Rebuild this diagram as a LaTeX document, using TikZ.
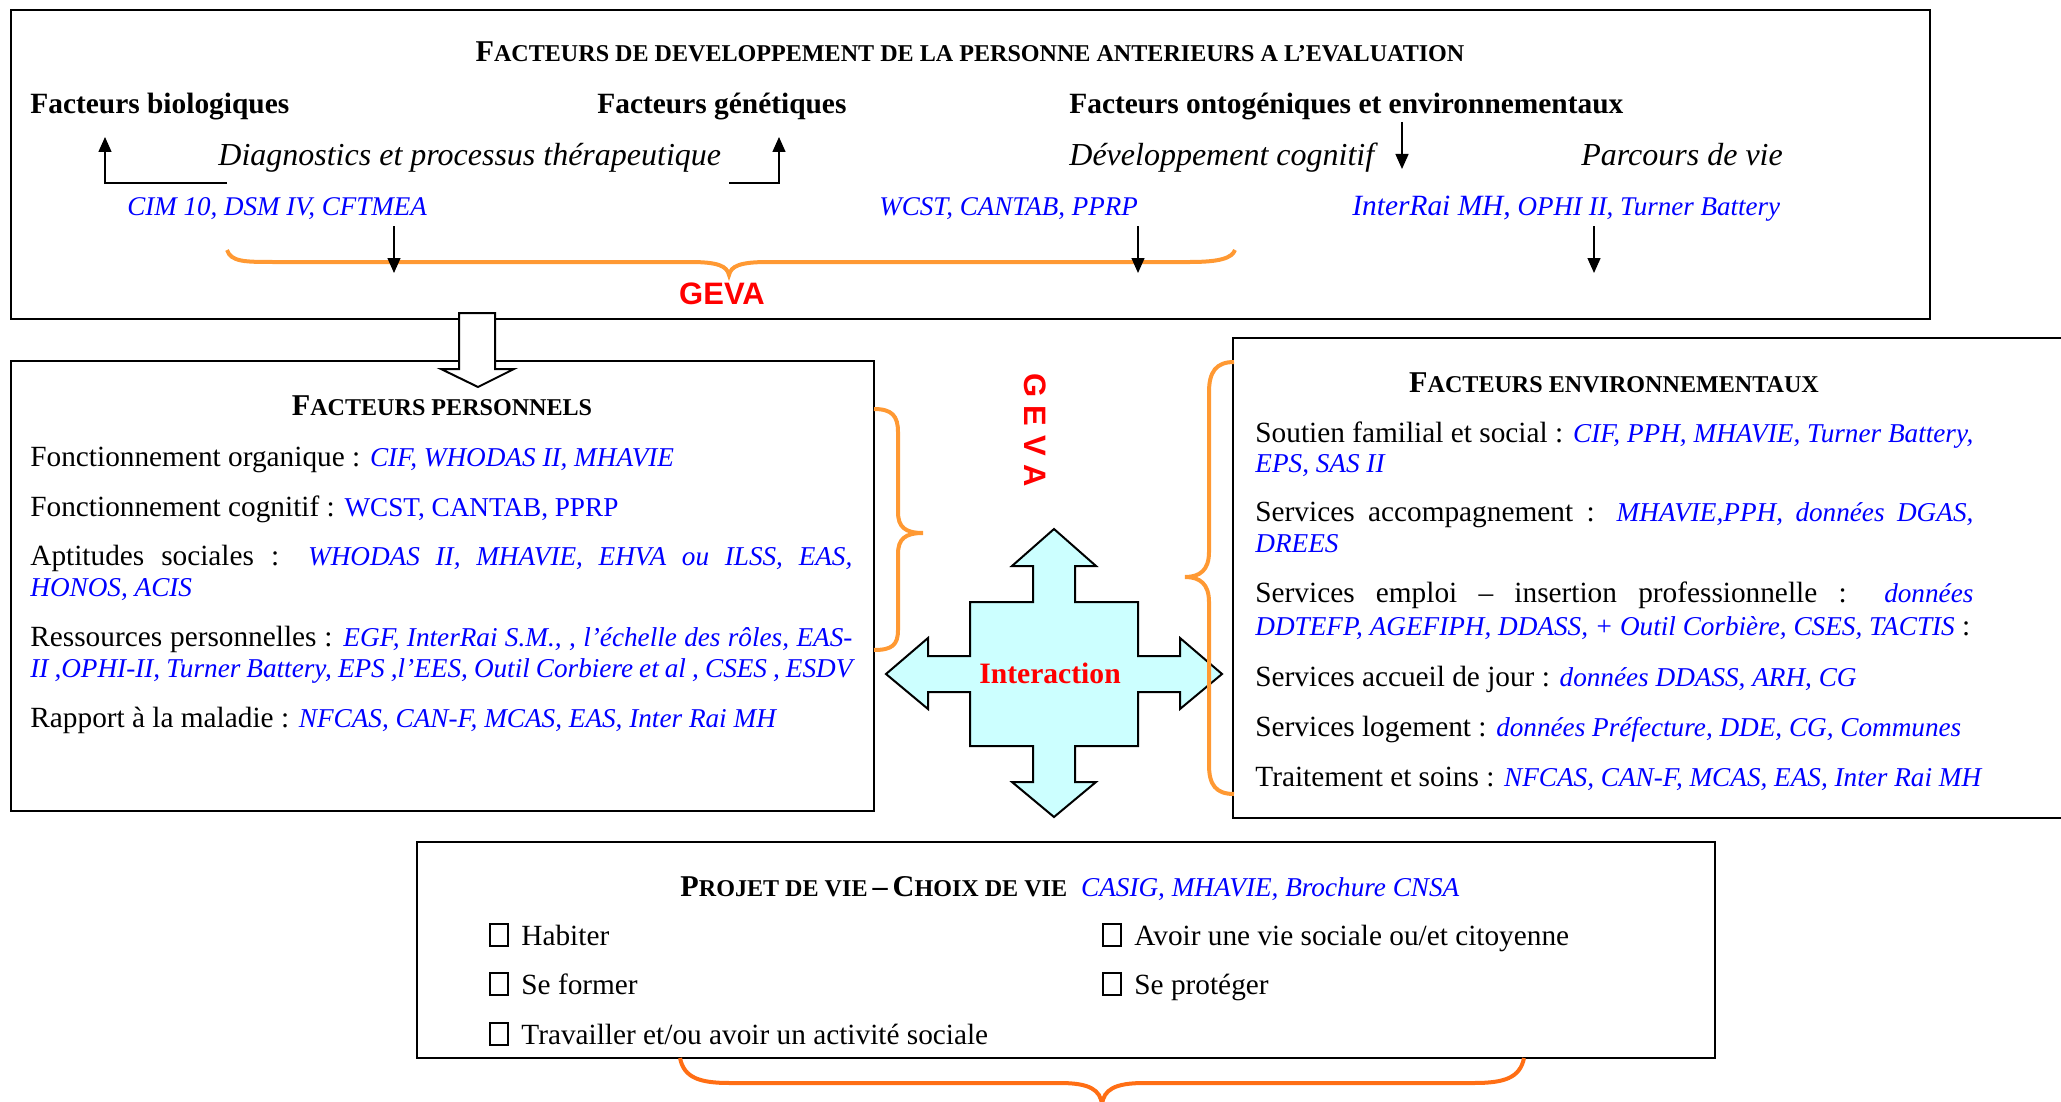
\documentclass[tikz,border=0pt]{standalone}
\usepackage{fontspec}
\setmainfont{Liberation Serif}
\newfontfamily\gevafont{Liberation Sans}
\usetikzlibrary{arrows.meta}
\definecolor{txtblue}{RGB}{0,0,255}
\definecolor{gevared}{RGB}{255,0,0}
\definecolor{braceor}{RGB}{255,153,51}
\definecolor{bracedark}{RGB}{255,110,20}
\definecolor{crossfill}{RGB}{204,255,255}
\newcommand{\bodyf}{\fontsize{14.65}{16}\selectfont}
\newcommand{\bl}[1]{{\color{txtblue}\mdseries\itshape\fontsize{13.6}{16}\selectfont #1}}
\newcommand{\blu}[1]{{\color{txtblue}\fontsize{13.6}{16}\selectfont #1}}
\newcommand{\hsc}[2]{{\fontsize{15.1}{17}\selectfont #1}{\fontsize{12.05}{14}\selectfont #2}}
\newcommand{\cbox}{{\setlength{\fboxsep}{0pt}\setlength{\fboxrule}{1pt}\framebox[10pt]{\rule{0pt}{10pt}}}\hspace{6pt}}
\begin{document}
\begin{tikzpicture}[x=0.5pt,y=-0.5pt,
  frame/.style={draw=black, line width=1pt},
  txt/.style={anchor=base west, inner sep=0pt, font=\bodyf},
  head/.style={anchor=base west, inner sep=0pt, font=\bfseries\fontsize{14.7}{16}\selectfont},
  itl/.style={anchor=base west, inner sep=0pt, font=\itshape\fontsize{16}{18}\selectfont},
  tool/.style={anchor=base west, inner sep=0pt, font=\itshape\fontsize{13.5}{15}\selectfont, text=txtblue},
  conn/.style={line width=0.7pt, -{Triangle[length=7.5pt,width=6.5pt]}},
  brace/.style={draw=braceor, line width=2pt},
  geva/.style={inner sep=0pt, text=gevared, font=\gevafont\bfseries\fontsize{15.5}{17}\selectfont}]
\useasboundingbox (0,0) rectangle (2061,1102);

% ---------- top box ----------
\draw[frame] (10.5,10.5) rectangle (1930,319);
\node[anchor=base, inner sep=0pt, font=\bfseries] (ttop) at (970,62)
  {\hsc{F}{ACTEURS DE DEVELOPPEMENT DE LA PERSONNE ANTERIEURS A L’EVALUATION}};
\node[head] (fbio) at (30,114) {Facteurs biologiques};
\node[head] (fgen) at (597,114) {Facteurs génétiques};
\node[head] (fonto) at (1069,114) {Facteurs ontogéniques et environnementaux};
\node[itl] (diag) at (218,165) {Diagnostics et processus thérapeutique};
\node[itl] (devc) at (1069,165) {Développement cognitif};
\node[itl] (parc) at (1581,165) {Parcours de vie};
\node[tool] (cim) at (127,215) {CIM 10, DSM IV, CFTMEA};
\node[tool] (wcst) at (879,215) {WCST, CANTAB, PPRP};
\node[tool] (irai) at (1352,215) {{\fontsize{14.7}{16}\selectfont InterRai MH,} OPHI II, Turner Battery};

% brace top
\draw[brace] (227,250) .. controls (231,262) and (245,262) .. (275,262)
  -- (690,262) .. controls (718,262) and (727,266) .. (729,275)
  .. controls (731,266) and (740,262) .. (768,262)
  -- (1190,262) .. controls (1220,262) and (1232,258) .. (1235,250);
\node[geva] (gevatop) at (722,294) {GEVA};

% arrows top
\coordinate (e1a) at (227,183); \coordinate (e1b) at (105,137);
\coordinate (e2a) at (729,183); \coordinate (e2b) at (779,137);
\draw[conn] (e1a) -| (e1b);
\draw[conn] (e2a) -| (e2b);
\coordinate (d1a) at (1402,122); \coordinate (d1b) at (1402,169);
\draw[conn] (d1a) -- (d1b);
\coordinate (s1a) at (394,226); \coordinate (s1b) at (394,273);
\coordinate (s2a) at (1138,226); \coordinate (s2b) at (1138,273);
\coordinate (s3a) at (1594,226); \coordinate (s3b) at (1594,273);
\draw[conn] (s1a) -- (s1b);
\draw[conn] (s2a) -- (s2b);
\draw[conn] (s3a) -- (s3b);

% ---------- left box ----------
\draw[frame] (10.5,361) rectangle (874,811);
\draw[line width=1pt, fill=white] (459,313) -- (495,313) -- (495,369) -- (514,369)
  -- (478,387) -- (441,369) -- (459,369) -- cycle;
\node[anchor=base, inner sep=0pt, font=\bfseries] (tpers) at (442,415) {\hsc{F}{ACTEURS PERSONNELS}};
\node[txt] (p1) at (30,466) {Fonctionnement organique : \bl{CIF, WHODAS II, MHAVIE}};
\node[txt] (p2) at (30,516) {Fonctionnement cognitif : \blu{WCST, CANTAB, PPRP}};
\node[txt] (p3) at (30,565) {\makebox[411pt][s]{Aptitudes sociales : \bl{WHODAS II, MHAVIE, EHVA ou ILSS, EAS,}}};
\node[txt] (p3b) at (30,596) {\bl{HONOS, ACIS}};
\node[txt] (p4) at (30,646) {\makebox[411pt][s]{Ressources personnelles : \bl{EGF, InterRai S.M., , l’échelle des rôles, EAS-}}};
\node[txt] (p4b) at (30,677) {\makebox[411pt][s]{\bl{II ,OPHI-II, Turner Battery, EPS ,l’EES, Outil Corbiere et al , CSES , ESDV}}};
\node[txt] (p5) at (30,727) {Rapport à la maladie : \bl{NFCAS, CAN-F, MCAS, EAS, Inter Rai MH}};

% brace left
\draw[brace] (874,409) .. controls (892,409) and (898,416) .. (898,432)
  -- (898,512) .. controls (898,527) and (905,533) .. (923,533)
  .. controls (905,533) and (898,539) .. (898,554)
  -- (898,630) .. controls (898,645) and (892,650) .. (874,650);
\node[geva, rotate=-90] (gevarot) at (1035,430) {G E V A};

% ---------- cross ----------
\draw[line width=1pt, fill=crossfill] (1054,529) -- (1096,566) -- (1075,566) -- (1075,602)
  -- (1138,602) -- (1138,656) -- (1180,656) -- (1180,638) -- (1222,674) -- (1180,709)
  -- (1180,692) -- (1138,692) -- (1138,746) -- (1075,746) -- (1075,782) -- (1096,782)
  -- (1054,817) -- (1012,782) -- (1033,782) -- (1033,746) -- (970,746) -- (970,692)
  -- (928,692) -- (928,709) -- (886,674) -- (928,638) -- (928,656) -- (970,656)
  -- (970,602) -- (1033,602) -- (1033,566) -- (1012,566) -- cycle;
\node[inner sep=0pt, text=gevared, font=\bfseries\fontsize{14.8}{16}\selectfont] (inter) at (1050,673) {Interaction};

% ---------- right box ----------
\draw[frame] (1233,338) rectangle (2075,818);
\draw[brace] (1234,362) .. controls (1216,362) and (1209,372) .. (1209,392)
  -- (1209,552) .. controls (1209,570) and (1200,577) .. (1185,577)
  .. controls (1200,577) and (1209,584) .. (1209,602)
  -- (1209,765) .. controls (1209,785) and (1216,794) .. (1234,794);
\node[anchor=base, inner sep=0pt, font=\bfseries] (tenv) at (1614,392) {\hsc{F}{ACTEURS ENVIRONNEMENTAUX}};
\node[txt] (r1) at (1255,442) {\makebox[359pt][s]{Soutien familial et social : \bl{CIF, PPH, MHAVIE, Turner Battery,}}};
\node[txt] (r1b) at (1255,472) {\bl{EPS, SAS II}};
\node[txt] (r2) at (1255,521) {\makebox[359pt][s]{Services accompagnement : \bl{MHAVIE,PPH, données DGAS,}}};
\node[txt] (r2b) at (1255,552) {\bl{DREES}};
\node[txt] (r3) at (1255,602) {\makebox[359pt][s]{Services emploi – insertion professionnelle : \bl{données}}};
\node[txt] (r3b) at (1255,635) {\bl{DDTEFP, AGEFIPH, DDASS, + Outil Corbière, CSES, TACTIS} :};
\node[txt] (r4) at (1255,686) {Services accueil de jour : \bl{données DDASS, ARH, CG}};
\node[txt] (r5) at (1255,736) {Services logement : \bl{données Préfecture, DDE, CG, Communes}};
\node[txt] (r6) at (1255,786) {Traitement et soins : \bl{NFCAS, CAN-F, MCAS, EAS, Inter Rai MH}};

% ---------- bottom box ----------
\draw[frame] (417,842) rectangle (1715,1058);
\node[anchor=base west, inner sep=0pt, font=\bfseries] (tproj) at (680,896)
  {\hsc{P}{ROJET DE VIE} {\fontsize{15.1}{17}\selectfont –} \hsc{C}{HOIX DE VIE}\hspace{7pt}\bl{CASIG, MHAVIE, Brochure CNSA}};
\node[txt] (b1) at (489,945) {\cbox Habiter};
\node[txt] (b2) at (1102,945) {\cbox Avoir une vie sociale ou/et citoyenne};
\node[txt] (b3) at (489,994) {\cbox Se former};
\node[txt] (b4) at (1102,994) {\cbox Se protéger};
\node[txt] (b5) at (489,1044) {\cbox Travailler et/ou avoir un activité sociale};
\draw[draw=bracedark, line width=2pt] (680,1058) .. controls (684,1078) and (700,1083) .. (730,1083)
  -- (1060,1083) .. controls (1090,1083) and (1100,1090) .. (1102,1104)
  .. controls (1104,1090) and (1114,1083) .. (1144,1083)
  -- (1474,1083) .. controls (1504,1083) and (1520,1078) .. (1524,1058);
\end{tikzpicture}
\end{document}
